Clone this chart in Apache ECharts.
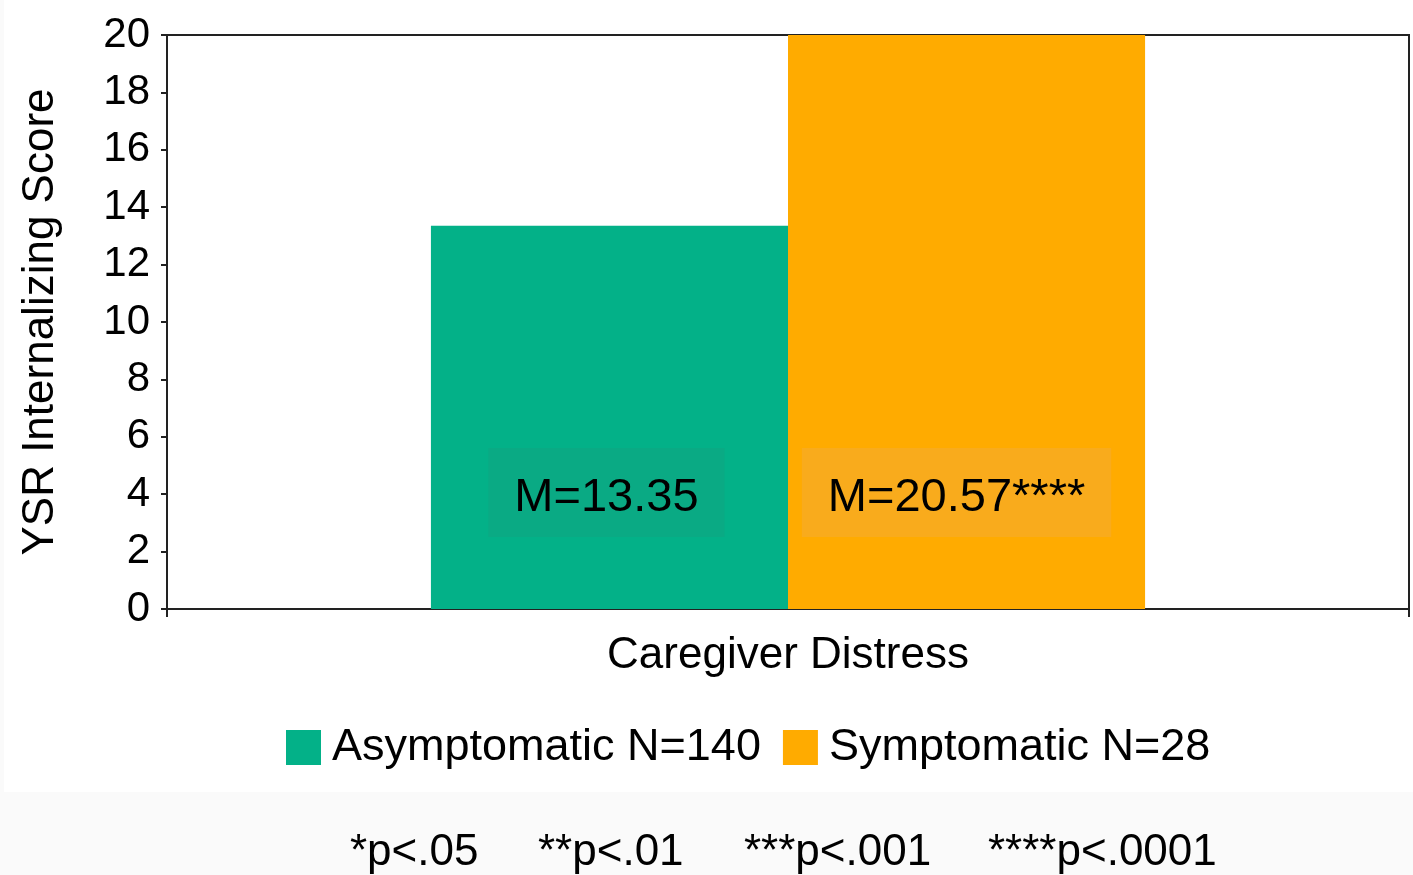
<!DOCTYPE html>
<html>
<head>
<meta charset="utf-8">
<script src="https://cdn.jsdelivr.net/npm/echarts@6/dist/echarts.min.js"></script>
<style>
  html, body { margin: 0; padding: 0; background: #fafafa; }
  #panel { position: absolute; left: 4px; top: 0; width: 1409px; height: 792px; background: #fff; }
  #chart { position: absolute; left: 0; top: 0; width: 1413px; height: 875px; }
</style>
</head>
<body>
<div id="panel"></div>
<div id="chart"></div>
<script>
// chart values
const categories = ['Caregiver Distress'];
const seriesNames = ['Asymptomatic N=140', 'Symptomatic N=28'];
const asymptomatic = [13.35];
const symptomatic = [20.57];
const barLabels = ['M=13.35', 'M=20.57****'];
const footnotes = ['*p<.05', '**p<.01', '***p<.001', '****p<.0001'];
const footnoteX = [350, 538, 744, 988];

const FONT = '"Liberation Sans", Arial, sans-serif';

const myChart = echarts.init(document.getElementById('chart'));

function labelFor(i, boxColor, dx) {
    return {
        show: true,
        position: 'insideBottom',
        distance: 72,
        offset: [dx, 0],
        formatter: barLabels[i],
        color: '#000',
        fontFamily: FONT,
        fontSize: 47,
        backgroundColor: boxColor,
        padding: [27, 26, 15, 26]
    };
}

myChart.setOption({
    backgroundColor: 'transparent',
    animation: false,
    textStyle: { fontFamily: FONT },
    grid: {
        left: 167,
        right: 4,
        top: 35,
        bottom: 266,
        show: true,
        borderColor: '#222',
        borderWidth: 2,
        backgroundColor: 'transparent'
    },
    legend: {
        data: seriesNames,
        left: 281,
        top: 720,
        itemWidth: 35,
        itemHeight: 35,
        itemGap: 22,
        icon: 'rect',
        textStyle: { fontSize: 45, color: '#000', fontFamily: FONT, padding: [0, 0, 0, 6] }
    },
    xAxis: {
        type: 'category',
        data: categories,
        axisLine: { lineStyle: { color: '#222', width: 2 } },
        axisTick: { show: true, length: 8, lineStyle: { color: '#222', width: 2 } },
        axisLabel: { fontSize: 44, color: '#000', margin: 25, fontFamily: FONT }
    },
    yAxis: {
        type: 'value',
        min: 0,
        max: 20,
        interval: 2,
        name: 'YSR Internalizing Score',
        nameLocation: 'middle',
        nameGap: 104,
        nameTextStyle: { fontSize: 44, color: '#000', fontFamily: FONT },
        axisLine: { show: true, lineStyle: { color: '#222', width: 2 } },
        axisTick: { show: true, length: 6, lineStyle: { color: '#222', width: 2 } },
        axisLabel: { fontSize: 42, color: '#000', margin: 17, fontFamily: FONT },
        splitLine: { show: false }
    },
    series: [
        {
            name: seriesNames[0],
            type: 'bar',
            data: asymptomatic,
            barGap: 0,
            barCategoryGap: '42.5%',
            itemStyle: { color: '#03b188' },
            label: labelFor(0, '#0aaa84', -3)
        },
        {
            name: seriesNames[1],
            type: 'bar',
            data: symptomatic,
            itemStyle: { color: '#ffab00' },
            label: labelFor(1, '#f9ab1c', -10)
        }
    ],
    graphic: footnotes.map((t, i) => ({
        type: 'text',
        left: footnoteX[i],
        top: 831,
        style: { text: t, font: '44px ' + FONT, fill: '#000' }
    }))
});
</script>
</body>
</html>
